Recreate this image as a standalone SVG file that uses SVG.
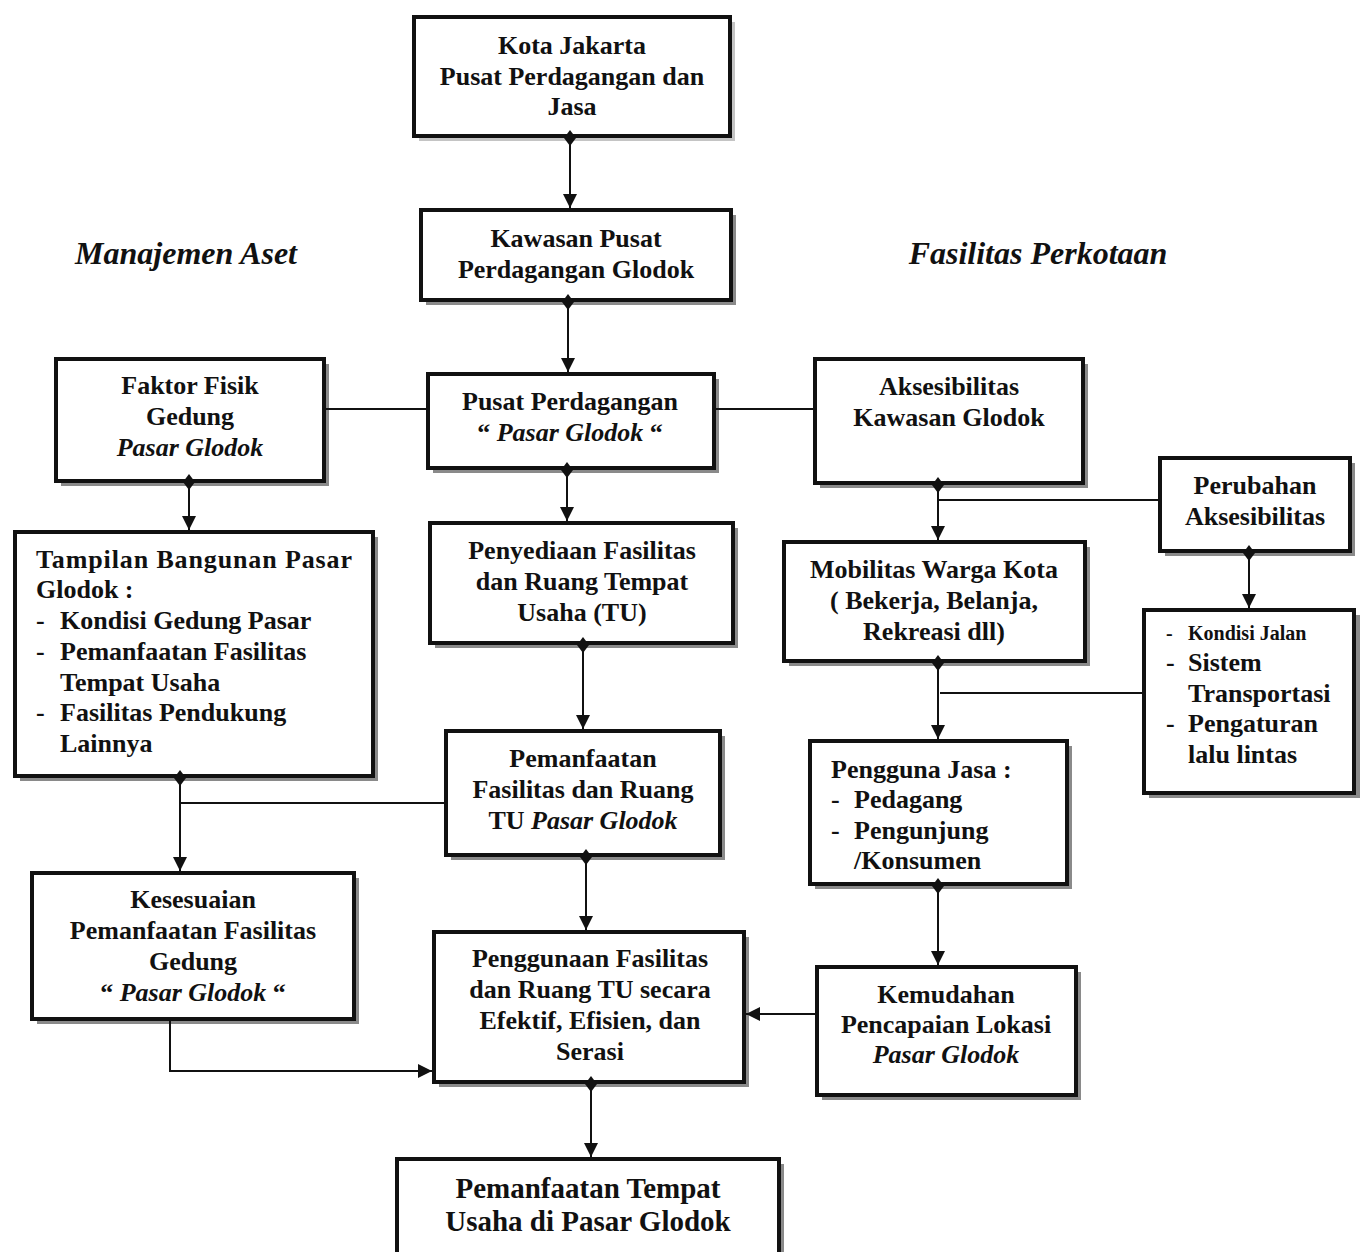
<svg xmlns="http://www.w3.org/2000/svg" width="1360" height="1252" viewBox="0 0 1360 1252" font-family="'Liberation Serif', 'Times New Roman', Tinos, 'Nimbus Roman', Times, serif">
<defs>
<style>
.box{fill:#fff;stroke:#111;stroke-width:4}
.sh{fill:#8a8a8a}
.t{font-family:'Liberation Serif','Times New Roman',Tinos,Times,serif;font-weight:bold;font-size:26px;fill:#111}
.c{text-anchor:middle}
.i{font-style:italic}
.hd{font-family:'Liberation Serif','Times New Roman',Tinos,Times,serif;font-weight:bold;font-style:italic;font-size:32px;fill:#111;text-anchor:middle}
.ln{fill:none;stroke:#111;stroke-width:2}
</style>
<marker id="arr" viewBox="0 0 14 14" refX="14" refY="7" markerWidth="14" markerHeight="14" markerUnits="userSpaceOnUse" orient="auto"><path d="M0,0 L14,7 L0,14 z" fill="#111"/></marker>
<marker id="dia" viewBox="0 0 16 12" refX="8" refY="6" markerWidth="16" markerHeight="12" markerUnits="userSpaceOnUse" orient="auto"><path d="M0,6 L8,0 L16,6 L8,12 z" fill="#111"/></marker>
</defs>
<rect width="1360" height="1252" fill="#fff"/>

<text class="hd" x="186" y="264">Manajemen Aset</text>
<text class="hd" x="1038" y="264">Fasilitas Perkotaan</text>

<g id="n-kota">
<rect x="419" y="22" width="316" height="119" fill="#c4c4c4"/>
<rect class="box" x="414" y="17" width="316" height="119"/>
<text class="t c" x="572" y="54">Kota Jakarta</text>
<text class="t c" x="572" y="85">Pusat Perdagangan dan</text>
<text class="t c" x="572" y="115">Jasa</text>
</g>

<g id="n-kawasan">
<rect class="sh" x="426" y="215" width="310" height="90"/>
<rect class="box" x="421" y="210" width="310" height="90"/>
<text class="t c" x="576" y="247">Kawasan Pusat</text>
<text class="t c" x="576" y="278">Perdagangan Glodok</text>
</g>

<g id="n-pusat">
<rect class="sh" x="433" y="379" width="286" height="94"/>
<rect class="box" x="428" y="374" width="286" height="94"/>
<text class="t c" x="570" y="410">Pusat Perdagangan</text>
<text class="t c" x="570" y="441">“ <tspan class="i">Pasar Glodok</tspan> “</text>
</g>

<g id="n-faktor">
<rect class="sh" x="61" y="364" width="268" height="122"/>
<rect class="box" x="56" y="359" width="268" height="122"/>
<text class="t c" x="190" y="394">Faktor Fisik</text>
<text class="t c" x="190" y="425">Gedung</text>
<text class="t c i" x="190" y="456">Pasar Glodok</text>
</g>

<g id="n-aksesibilitas">
<rect class="sh" x="820" y="364" width="268" height="124"/>
<rect class="box" x="815" y="359" width="268" height="124"/>
<text class="t c" x="949" y="395">Aksesibilitas</text>
<text class="t c" x="949" y="426">Kawasan Glodok</text>
</g>

<g id="n-perubahan">
<rect class="sh" x="1165" y="463" width="190" height="93"/>
<rect class="box" x="1160" y="458" width="190" height="93"/>
<text class="t c" x="1255" y="494">Perubahan</text>
<text class="t c" x="1255" y="525">Aksesibilitas</text>
</g>

<g id="n-tampilan">
<rect class="sh" x="20" y="537" width="358" height="244"/>
<rect class="box" x="15" y="532" width="358" height="244"/>
<text class="t" x="36" y="568" textLength="316" lengthAdjust="spacing">Tampilan  Bangunan  Pasar</text>
<text class="t" x="36" y="598">Glodok :</text>
<text class="t" x="36" y="629">-</text><text class="t" x="60" y="629">Kondisi Gedung Pasar</text>
<text class="t" x="36" y="660">-</text><text class="t" x="60" y="660">Pemanfaatan Fasilitas</text>
<text class="t" x="60" y="691">Tempat Usaha</text>
<text class="t" x="36" y="721">-</text><text class="t" x="60" y="721">Fasilitas Pendukung</text>
<text class="t" x="60" y="752">Lainnya</text>
</g>

<g id="n-penyediaan">
<rect class="sh" x="435" y="528" width="303" height="120"/>
<rect class="box" x="430" y="523" width="303" height="120"/>
<text class="t c" x="582" y="559">Penyediaan Fasilitas</text>
<text class="t c" x="582" y="590">dan Ruang Tempat</text>
<text class="t c" x="582" y="621">Usaha (TU)</text>
</g>

<g id="n-mobilitas">
<rect class="sh" x="789" y="547" width="301" height="119"/>
<rect class="box" x="784" y="542" width="301" height="119"/>
<text class="t c" x="934" y="578">Mobilitas Warga Kota</text>
<text class="t c" x="934" y="609">( Bekerja, Belanja,</text>
<text class="t c" x="934" y="640">Rekreasi dll)</text>
</g>

<g id="n-kondisi">
<rect class="sh" x="1149" y="615" width="211" height="183"/>
<rect class="box" x="1144" y="610" width="210" height="183"/>
<text class="t" x="1166" y="640" style="font-size:20px">-</text><text class="t" x="1188" y="640" style="font-size:20px">Kondisi Jalan</text>
<text class="t" x="1166" y="671">-</text><text class="t" x="1188" y="671">Sistem</text>
<text class="t" x="1188" y="702">Transportasi</text>
<text class="t" x="1166" y="732">-</text><text class="t" x="1188" y="732">Pengaturan</text>
<text class="t" x="1188" y="763">lalu lintas</text>
</g>

<g id="n-pemanfaatan">
<rect class="sh" x="451" y="736" width="274" height="124"/>
<rect class="box" x="446" y="731" width="274" height="124"/>
<text class="t c" x="583" y="767">Pemanfaatan</text>
<text class="t c" x="583" y="798">Fasilitas dan Ruang</text>
<text class="t c" x="583" y="829">TU <tspan class="i">Pasar Glodok</tspan></text>
</g>

<g id="n-pengguna">
<rect class="sh" x="815" y="746" width="257" height="143"/>
<rect class="box" x="810" y="741" width="257" height="143"/>
<text class="t" x="831" y="778">Pengguna Jasa :</text>
<text class="t" x="831" y="808">-</text><text class="t" x="854" y="808">Pedagang</text>
<text class="t" x="831" y="839">-</text><text class="t" x="854" y="839">Pengunjung</text>
<text class="t" x="854" y="869">/Konsumen</text>
</g>

<g id="n-kesesuaian">
<rect class="sh" x="37" y="878" width="322" height="146"/>
<rect class="box" x="32" y="873" width="322" height="146"/>
<text class="t c" x="193" y="908">Kesesuaian</text>
<text class="t c" x="193" y="939">Pemanfaatan Fasilitas</text>
<text class="t c" x="193" y="970">Gedung</text>
<text class="t c" x="193" y="1001">“ <tspan class="i">Pasar Glodok</tspan> “</text>
</g>

<g id="n-penggunaan">
<rect class="sh" x="439" y="937" width="310" height="150"/>
<rect class="box" x="434" y="932" width="310" height="150"/>
<text class="t c" x="590" y="967">Penggunaan Fasilitas</text>
<text class="t c" x="590" y="998">dan Ruang TU secara</text>
<text class="t c" x="590" y="1029">Efektif, Efisien, dan</text>
<text class="t c" x="590" y="1060">Serasi</text>
</g>

<g id="n-kemudahan">
<rect class="sh" x="822" y="972" width="259" height="128"/>
<rect class="box" x="817" y="967" width="259" height="128"/>
<text class="t c" x="946" y="1003">Kemudahan</text>
<text class="t c" x="946" y="1033">Pencapaian Lokasi</text>
<text class="t c i" x="946" y="1063">Pasar Glodok</text>
</g>

<g id="n-tempat">
<rect class="sh" x="402" y="1164" width="382" height="110"/>
<rect class="box" x="397" y="1159" width="382" height="110"/>
<text class="t c" x="588" y="1198" style="font-size:29px">Pemanfaatan Tempat</text>
<text class="t c" x="588" y="1231" style="font-size:29px">Usaha di Pasar Glodok</text>
</g>

<g id="connectors">
<path class="ln" d="M570,138 V208" marker-start="url(#dia)" marker-end="url(#arr)"/>
<path class="ln" d="M568,302 V372" marker-start="url(#dia)" marker-end="url(#arr)"/>
<path class="ln" d="M326,409 H426"/>
<path class="ln" d="M716,409 H813"/>
<path class="ln" d="M189,482 V530" marker-start="url(#dia)" marker-end="url(#arr)"/>
<path class="ln" d="M567,470 V521" marker-start="url(#dia)" marker-end="url(#arr)"/>
<path class="ln" d="M938,485 V540" marker-start="url(#dia)" marker-end="url(#arr)"/>
<path class="ln" d="M938,500 H1158"/>
<path class="ln" d="M1249,553 V608" marker-start="url(#dia)" marker-end="url(#arr)"/>
<path class="ln" d="M938,663 V739" marker-start="url(#dia)" marker-end="url(#arr)"/>
<path class="ln" d="M940,693 H1142"/>
<path class="ln" d="M583,645 V729" marker-start="url(#dia)" marker-end="url(#arr)"/>
<path class="ln" d="M180,778 V871" marker-start="url(#dia)" marker-end="url(#arr)"/>
<path class="ln" d="M180,803 H444"/>
<path class="ln" d="M586,857 V930" marker-start="url(#dia)" marker-end="url(#arr)"/>
<path class="ln" d="M938,886 V965" marker-start="url(#dia)" marker-end="url(#arr)"/>
<path class="ln" d="M815,1014 H746" marker-end="url(#arr)"/>
<path class="ln" d="M170,1021 V1071 H432" marker-end="url(#arr)"/>
<path class="ln" d="M591,1084 V1157" marker-start="url(#dia)" marker-end="url(#arr)"/>
</g>
</svg>
